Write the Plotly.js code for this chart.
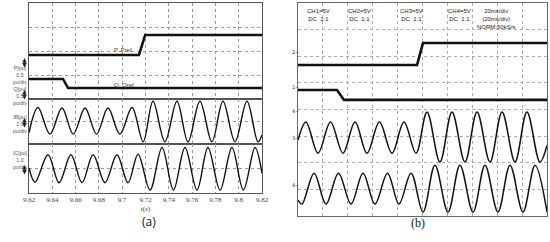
<!DOCTYPE html>
<html>
<head>
<meta charset="utf-8">
<script src="https://cdn.plot.ly/plotly-3.0.1.min.js"></script>
<style>
  body { margin: 0; background: #fff; }
  #plot { width: 550px; height: 242px; }
</style>
</head>
<body>
<div id="plot"></div>
<script>
// ---- panel (a): simulation, time in s ----
// P and Q steps (pu, shifted to their trace position)
let pTime = [9.62, 9.7144, 9.7197, 9.82]
let pVal = [0.917, 0.917, 1.333, 1.333]
let qTime = [9.62, 9.6492, 9.6535, 9.82]
let qVal = [0.417, 0.417, 0.229, 0.229]

// IB current, peaks and troughs (pu)
let ibTime = [9.62, 9.6277, 9.638, 9.6483, 9.658, 9.6681, 9.678, 9.6878, 9.698, 9.7084,
  9.718, 9.7264, 9.7367, 9.747, 9.7565, 9.7667, 9.777, 9.7865, 9.7968, 9.8071, 9.8165, 9.82]
let ibVal = [-0.5, 0.62, -0.56, 0.6, -0.56, 0.6, -0.56, 0.6, -0.56, 0.62,
  -0.9, 0.9, -0.9, 0.9, -0.9, 0.9, -0.9, 0.9, -0.9, 0.9, -0.9, -0.6]

// IC current
let icTime = [9.62, 9.6252, 9.6363, 9.6458, 9.656, 9.6655, 9.675, 9.6852, 9.6955, 9.705,
  9.7136, 9.7239, 9.7342, 9.744, 9.7539, 9.7642, 9.7736, 9.784, 9.7942, 9.804, 9.814, 9.82]
let icVal = [0.02, -0.56, 0.56, -0.58, 0.56, -0.58, 0.56, -0.58, 0.56, -0.58,
  0.58, -0.88, 0.86, -0.88, 0.86, -0.88, 0.86, -0.88, 0.86, -0.88, 0.86, -0.2]

let tickVals = [9.62, 9.64, 9.66, 9.68, 9.7, 9.72, 9.74, 9.76, 9.78, 9.8, 9.82]
let tickText = ["9.62", "9.64", "9.66", "9.68", "9.7", "9.72", "9.74", "9.76", "9.78", "9.8", "9.82"]

// ---- panel (b): oscilloscope, time in ms, values in screen divisions ----
let ch2Time = [0, 95.6, 100.4, 200]
let ch2Val = [1.67, 1.67, 2.5, 2.5]
let ch1Time = [0, 31.3, 36.9, 200]
let ch1Val = [0.73, 0.73, 0.36, 0.36]

let ch3Time = [0, 6.4, 16.1, 26.1, 36.1, 45.8, 55.4, 65.4, 75.5, 85.1,
  94.8, 103.6, 114, 123.7, 134.1, 143.8, 154.2, 163.9, 174.3, 183.9, 194.3, 200]
let ch3Val = [-1.15, -0.47, -1.64, -0.47, -1.64, -0.47, -1.64, -0.47, -1.64, -0.47,
  -1.64, -0.09, -1.97, -0.09, -1.97, -0.09, -1.97, -0.09, -1.97, -0.09, -1.97, -1.35]

let ch4Time = [0, 3.2, 12.9, 22.5, 32.5, 42.6, 52.2, 61.8, 71.9, 81.1, 90.8,
  100.4, 110, 120.5, 130.1, 140.6, 150.2, 160.6, 170.3, 180.7, 190.4, 200]
let ch4Val = [-3.4, -3.55, -2.39, -3.55, -2.39, -3.55, -2.39, -3.55, -2.39, -3.55, -2.39,
  -3.85, -2.09, -3.85, -2.09, -3.85, -2.09, -3.85, -2.09, -3.85, -2.09, -3.85]

let scopeHeader = ["CH1=5V<br>DC  1:1", "CH2=5V<br>DC  1:1", "CH3=5V<br>DC  1:1",
  "CH4=5V<br>DC  1:1", "20ms/div<br>(20ms/div)<br>NORM:50kS/s"]
let scopeMarks = ["2", "1", "4", "3", "4"]

// pixel helpers for layout placement
let W = 550, H = 242
function px(x) { return x / W }
function py(y) { return 1 - y / H }

let ink = "#111"
let data = [
  { x: pTime, y: pVal, xaxis: "x", yaxis: "y", mode: "lines", line: { color: ink, width: 2.5 } },
  { x: qTime, y: qVal, xaxis: "x", yaxis: "y", mode: "lines", line: { color: ink, width: 2.5 } },
  { x: ibTime, y: ibVal, xaxis: "x2", yaxis: "y2", mode: "lines", line: { color: ink, width: 1.4, shape: "spline" } },
  { x: icTime, y: icVal, xaxis: "x3", yaxis: "y3", mode: "lines", line: { color: ink, width: 1.4, shape: "spline" } },
  { x: ch2Time, y: ch2Val, xaxis: "x4", yaxis: "y4", mode: "lines", line: { color: ink, width: 2.6 } },
  { x: ch1Time, y: ch1Val, xaxis: "x4", yaxis: "y4", mode: "lines", line: { color: ink, width: 2.6 } },
  { x: ch3Time, y: ch3Val, xaxis: "x4", yaxis: "y4", mode: "lines", line: { color: ink, width: 1.5, shape: "spline" } },
  { x: ch4Time, y: ch4Val, xaxis: "x4", yaxis: "y4", mode: "lines", line: { color: ink, width: 1.5, shape: "spline" } }
]

let grid = { showgrid: true, griddash: "dot", gridcolor: "#999", gridwidth: 1, zeroline: false,
  showline: true, mirror: true, linecolor: "#555", linewidth: 1, fixedrange: true }

function xa(anchor, labels) {
  let ax = Object.assign({}, grid, {
    domain: [px(29), px(262)], anchor: anchor, range: [9.62, 9.82],
    tickvals: tickVals, ticktext: tickText, showticklabels: labels, ticks: ""
  })
  if (labels) {
    ax.tickfont = { family: "Liberation Serif", size: 7, color: "#444" }
    ax.title = { text: "t(s)", font: { family: "Liberation Serif", size: 7, color: "#444" }, standoff: 2 }
  }
  return ax
}

let layout = {
  width: W, height: H,
  margin: { l: 0, r: 0, t: 0, b: 0 },
  paper_bgcolor: "#fff", plot_bgcolor: "#fff",
  showlegend: false,
  xaxis: xa("y", false),
  xaxis2: xa("y2", false),
  xaxis3: xa("y3", true),
  yaxis: Object.assign({}, grid, { domain: [py(99), py(3)], range: [0, 2], dtick: 0.5, showticklabels: false, ticks: "" }),
  yaxis2: Object.assign({}, grid, { domain: [py(144), py(99)], range: [-1, 1], dtick: 1, showticklabels: false, ticks: "" }),
  yaxis3: Object.assign({}, grid, { domain: [py(193), py(144)], range: [-1, 1], dtick: 1, showticklabels: false, ticks: "" }),
  xaxis4: Object.assign({}, grid, { domain: [px(298), px(547)], anchor: "y4", range: [0, 200], dtick: 20,
    showticklabels: false, ticks: "", linecolor: "#666", gridcolor: "#aaa" }),
  yaxis4: Object.assign({}, grid, { domain: [py(216), py(3)], anchor: "x4", range: [-4, 4], dtick: 1,
    showticklabels: false, ticks: "", linecolor: "#666", gridcolor: "#aaa" }),
  annotations: []
}

// left-side channel labels of panel (a), with a small up/down arrow
let aLabels = [["P[pu]<br>0.5<br>pu/div", 64], ["Q[pu]<br>0.5<br>pu/div", 96],
  ["IB[pu]<br>1.0<br>pu/div", 124], ["IC[pu]<br>1.0<br>pu/div", 171]]
aLabels.forEach(function (l) {
  layout.annotations.push({ text: l[0], x: px(11.5), y: py(l[1]), xref: "paper", yref: "paper",
    showarrow: false, align: "center", borderpad: 0,
    font: { family: "Liberation Sans", size: 5.2, color: "#555" } })
  layout.annotations.push({ text: "", x: px(24.5), y: py(l[1] - 6), xref: "paper", yref: "paper",
    showarrow: true, ax: 0, ay: 11, arrowside: "end+start", arrowhead: 2, arrowsize: 0.9,
    arrowwidth: 1, arrowcolor: "#222" })
})
layout.annotations.push({ text: "P, Pref", x: px(112), y: py(45), xref: "paper", yref: "paper",
  showarrow: false, font: { family: "Liberation Sans", size: 6, color: "#444" } })
layout.annotations.push({ text: "Q, Qref", x: px(112), y: py(80), xref: "paper", yref: "paper",
  showarrow: false, font: { family: "Liberation Sans", size: 6, color: "#444" } })

// scope header and channel markers of panel (b)
let headX = [318, 373, 425, 473, 517]
scopeHeader.forEach(function (t, i) {
  layout.annotations.push({ text: t, x: px(headX[i]), y: py(6), xref: "paper", yref: "paper",
    yanchor: "top", showarrow: false, align: "center",
    font: { family: "Liberation Sans", size: 6, color: "#222" } })
})
let markY = [47, 87, 111, 138, 190]
scopeMarks.forEach(function (t, i) {
  layout.annotations.push({ text: t + "⌐", x: px(295), y: py(markY[i]), xref: "paper", yref: "paper",
    showarrow: false, font: { family: "DejaVu Sans", size: 5, color: "#333" } })
})

// panel captions
layout.annotations.push({ text: "(a)", x: px(140), y: py(232), xref: "paper", yref: "paper",
  showarrow: false, font: { family: "Open Sans", size: 12, color: "#111" } })
layout.annotations.push({ text: "(b)", x: px(427), y: py(232), xref: "paper", yref: "paper",
  showarrow: false, font: { family: "Liberation Serif", size: 12, color: "#111" } })

Plotly.newPlot("plot", data, layout, { staticPlot: true, displayModeBar: false })
</script>
</body>
</html>
